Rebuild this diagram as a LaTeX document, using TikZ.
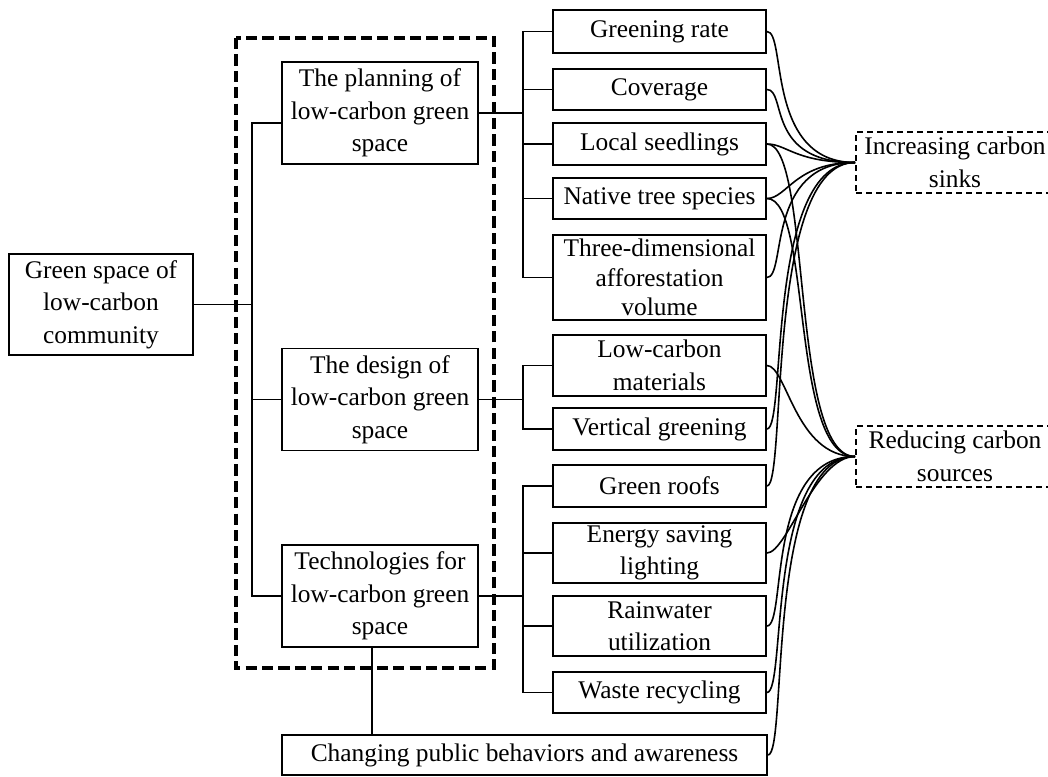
\documentclass[tikz,border=0pt]{standalone}
\usepackage{fontspec}
\setmainfont{Liberation Serif}
\usetikzlibrary{calc}
\tikzset{
  box/.style={draw,line width=0.9pt,align=center,inner sep=0pt,
    font=\fontsize{12.7}{16.25}\selectfont},
  itembox/.style={box,minimum width=106.5pt},
  goalbox/.style={box,line width=1pt,dash pattern=on 3.2pt off 1.8pt,
    minimum width=99pt,minimum height=30.5pt},
  tie/.style={line width=0.9pt},
  link/.style={line width=0.8pt}
}

\begin{document}
\begin{tikzpicture}[x=0.5pt,y=-0.5pt]

        \path[use as bounding box,fill=white] (0,0) rectangle (1048,776);

        \draw[line width=1.6pt,dash pattern=on 5.6pt off 2.6pt]
          (236,38) rectangle (494,668);

        \node[box,minimum width=92pt,minimum height=50.5pt] (gs)
          at (101,304.5) {Green space of\\low-carbon\\community};

        \node[box,minimum width=98pt,minimum height=51pt] (plan)
          at (380,113) {The planning of\\low-carbon green\\space};
        \node[box,minimum width=98pt,minimum height=51pt] (design)
          at (380,399.5) {The design of\\low-carbon green\\space};
        \node[box,minimum width=98pt,minimum height=51pt] (tech)
          at (380,596) {Technologies for\\low-carbon green\\space};

        \node[itembox,minimum height=21.5pt] (grate) at (659.5,31.5) {Greening rate};
        \node[itembox,minimum height=20.5pt] (cov) at (659.5,89.5) {Coverage};
        \node[itembox,minimum height=21pt] (seed) at (659.5,144) {Local seedlings};
        \node[itembox,minimum height=20.5pt] (native) at (659.5,198.5) {Native tree species};
        \node[itembox,minimum height=42.5pt,font=\fontsize{12.7}{14.8}\selectfont] (three)
          at (659.5,277.5) {Three-dimensional\\afforestation\\volume};
        \node[itembox,minimum height=30.5pt] (mat) at (659.5,365.5) {Low-carbon\\materials};
        \node[itembox,minimum height=21pt] (vgreen) at (659.5,429) {Vertical greening};
        \node[itembox,minimum height=21pt] (roof) at (659.5,486) {Green roofs};
        \node[itembox,minimum height=30pt] (energy) at (659.5,553) {Energy saving\\lighting};
        \node[itembox,minimum height=30pt] (rain) at (659.5,626) {Rainwater\\utilization};
        \node[itembox,minimum height=20.5pt] (waste) at (659.5,692.5) {Waste recycling};

        \node[box,minimum width=242.5pt,minimum height=20pt] (chg)
          at (524.5,755) {Changing public behaviors and awareness};

        \node[goalbox] (sinks) at (955,162.5) {Increasing carbon\\sinks};
        \node[goalbox] (sources) at (955,456.5) {Reducing carbon\\sources};

        \coordinate (ltrunk) at (252,0);
        \coordinate (rtrunk) at (523,0);

        \draw[tie] (gs.east) -- (gs.east -| ltrunk);
        \draw[tie] ([yshift=-5pt]plan.west) -| (ltrunk |- tech.west) -- (tech.west);
        \draw[tie] (design.west) -- (design.west -| ltrunk);

        \draw[tie] (plan.east) -- (plan.east -| rtrunk);
        \draw[tie] (grate.west) -| (rtrunk |- three.west) -- (three.west);
        \draw[tie] (cov.west) -- (cov.west -| rtrunk);
        \draw[tie] (seed.west) -- (seed.west -| rtrunk);
        \draw[tie] (native.west) -- (native.west -| rtrunk);

        \draw[tie] (design.east) -- (design.east -| rtrunk);
        \draw[tie] (mat.west) -| (rtrunk |- vgreen.west) -- (vgreen.west);

        \draw[tie] (tech.east) -- (tech.east -| rtrunk);
        \draw[tie] (roof.west) -| (rtrunk |- waste.west) -- (waste.west);
        \draw[tie] (energy.west) -- (energy.west -| rtrunk);
        \draw[tie] (rain.west) -- (rain.west -| rtrunk);

        \draw[tie] ([xshift=-4pt]tech.south) -- ([xshift=-4pt]tech.south |- chg.north);

        \draw[link] (grate.east) .. controls +(20,0) and +(-90,0) .. (sinks.west);
        \draw[link] (cov.east) .. controls +(20,0) and +(-90,0) .. (sinks.west);
        \draw[link] (seed.east) .. controls +(20,0) and +(-60,0) .. (sinks.west);
        \draw[link] (native.east) .. controls +(20,0) and +(-60,0) .. (sinks.west);
        \draw[link] (three.east) .. controls +(20,0) and +(-90,0) .. (sinks.west);
        \draw[link] (vgreen.east) .. controls +(20,0) and +(-90,0) .. (sinks.west);
        \draw[link] (roof.east) .. controls +(20,0) and +(-90,0) .. (sinks.west);

        \draw[link] (seed.east) .. controls +(45,0) and +(-65,0) .. (sources.west);
        \draw[link] (native.east) .. controls +(45,0) and +(-65,0) .. (sources.west);
        \draw[link] (mat.east) .. controls +(20,0) and +(-60,0) .. (sources.west);
        \draw[link] (energy.east) .. controls +(20,0) and +(-40,0) .. (sources.west);
        \draw[link] (rain.east) .. controls +(20,0) and +(-90,0) .. (sources.west);
        \draw[link] (waste.east) .. controls +(20,0) and +(-90,0) .. (sources.west);
        \draw[link] (chg.east) .. controls +(20,0) and +(-90,0) .. (sources.west);

      \end{tikzpicture}
\end{document}
